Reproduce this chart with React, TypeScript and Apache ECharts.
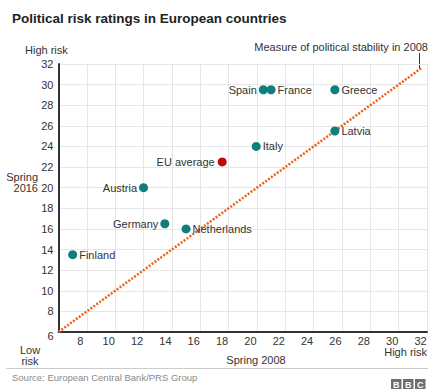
import React, { useEffect, useRef } from "react";
import * as echarts from "echarts";

const countries = ["Spain", "France", "Greece", "Latvia", "Italy", "Austria", "Germany", "Netherlands", "Finland"];
const risk2008 = [20.45, 21.0, 25.5, 25.5, 19.95, 12.0, 13.5, 15.0, 7.0];
const risk2016 = [29.5, 29.5, 29.5, 25.5, 24.0, 20.0, 16.5, 16.0, 13.5];
const leftLabelled = ["Spain", "Austria", "Germany"];

const euName = "EU average";
const eu2008 = 17.55;
const eu2016 = 22.5;

const stabilityLine = [
  [6, 6],
  [31.6, 31.6],
];

const axisMin = 6;
const axisMax = 32;
const axisStep = 2;

const FONT = "'Liberation Sans', Arial, Helvetica, sans-serif";
const TEAL = "#0e7f7b";
const RED = "#bb0a0a";
const ORANGE = "#ec5f14";
const TXT = "#333333";

export default function App() {
  const ref = useRef<HTMLDivElement>(null);

  useEffect(() => {
    document.body.style.margin = "0";
    const chart = echarts.init(ref.current!, null, { renderer: "svg" });

    const countryData = countries.map((name, i) => ({
      name,
      value: [risk2008[i], risk2016[i]],
      label: { position: leftLabelled.includes(name) ? "left" : "right" },
    }));

    const txt = (
      text: string,
      x: number,
      y: number,
      align: string,
      size = 11,
      color = TXT,
      weight = "normal",
      lineHeight = 11
    ) => ({
      type: "text",
      x,
      y,
      style: {
        text,
        fill: color,
        font: `${weight} ${size}px ${FONT}`,
        lineHeight,
        textAlign: align,
        textVerticalAlign: "middle",
      },
    });

    const bbcBox = (x: number, letter: string) => [
      { type: "rect", shape: { x, y: 379, width: 10.5, height: 10 }, style: { fill: "#6e6e6e" } },
      txt(letter, x + 5.25, 384.5, "center", 9, "#ffffff", "bold", 9),
    ];

    chart.setOption({
      animation: false,
      textStyle: { fontFamily: FONT },
      grid: { left: 58.5, right: 8, top: 64, bottom: 57, containLabel: false, outerBoundsMode: "none" },
      xAxis: {
        type: "value",
        min: axisMin,
        max: axisMax,
        interval: axisStep,
        axisLine: { show: true, onZero: false, lineStyle: { color: TXT, width: 2 } },
        axisTick: { show: false },
        splitLine: { show: true, lineStyle: { color: "#e6e6e6", width: 1 } },
        axisLabel: {
          showMinLabel: false,
          color: TXT,
          fontSize: 11,
          lineHeight: 11,
          fontFamily: FONT,
          margin: 3,
          padding: [0, 13, 0, 0],
        },
      },
      yAxis: {
        type: "value",
        min: axisMin,
        max: axisMax,
        interval: axisStep,
        axisLine: { show: true, onZero: false, lineStyle: { color: TXT, width: 2 } },
        axisTick: { show: false },
        splitLine: { show: true, lineStyle: { color: "#e6e6e6", width: 1 } },
        axisLabel: {
          color: TXT,
          fontSize: 11,
          fontFamily: FONT,
          margin: 5,
          formatter: (v: number) => (v === axisMin ? `{low|${v}}` : `${v}`),
          rich: { low: { fontSize: 11, lineHeight: 11, color: TXT, fontFamily: FONT, padding: [8, 0, 0, 0] } },
        },
      },
      series: [
        {
          type: "line",
          data: stabilityLine,
          symbol: "none",
          lineStyle: { color: ORANGE, width: 2.5, type: [2, 1.6] },
          silent: true,
          z: 2,
        },
        {
          type: "scatter",
          data: countryData,
          symbolSize: 9,
          itemStyle: { color: TEAL, opacity: 1 },
          label: {
            show: true,
            formatter: "{b}",
            color: TXT,
            fontSize: 11,
            fontFamily: FONT,
            distance: 2,
          },
          z: 3,
        },
        {
          type: "scatter",
          data: [{ name: euName, value: [eu2008, eu2016] }],
          symbolSize: 9,
          itemStyle: { color: RED, opacity: 1 },
          label: {
            show: true,
            position: "left",
            formatter: "{b}",
            color: TXT,
            fontSize: 11,
            fontFamily: FONT,
            distance: 3,
          },
          z: 3,
        },
      ],
      graphic: [
        txt("Political risk ratings in European countries", 12, 18.5, "left", 13.5, "#222222", "bold", 15),
        txt("High risk", 25, 50, "left"),
        txt("Measure of political stability in 2008", 428, 47, "right"),
        { type: "line", shape: { x1: 419.5, y1: 53, x2: 419.5, y2: 69 }, style: { stroke: TXT, lineWidth: 1 } },
        txt("Spring\n2016", 38, 182.5, "right", 11, TXT, "normal", 11),
        txt("Low\nrisk", 30, 355.5, "center", 11, TXT, "normal", 11),
        txt("High risk", 427, 352, "right", 11, TXT, "normal", 10.5),
        txt("Spring 2008", 256, 360, "center", 11, TXT, "normal", 10.5),
        { type: "line", shape: { x1: 6, y1: 368.5, x2: 428, y2: 368.5 }, style: { stroke: "#cccccc", lineWidth: 1 } },
        txt("Source: European Central Bank/PRS Group", 12, 377.5, "left", 9.5, "#8a8a8a", "normal", 10),
        ...bbcBox(391, "B"),
        ...bbcBox(403, "B"),
        ...bbcBox(415, "C"),
      ],
    });

    return () => chart.dispose();
  }, []);

  return <div ref={ref} style={{ width: 435, height: 389 }} />;
}
